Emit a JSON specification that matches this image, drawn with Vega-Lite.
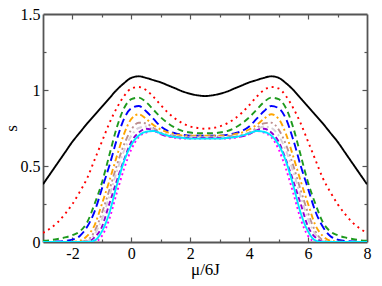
{
  "$schema": "https://vega.github.io/schema/vega-lite/v6.json",
  "width": 324,
  "height": 228,
  "autosize": {"type": "none"},
  "padding": {"left": 43, "top": 14, "right": 15, "bottom": 44},
  "config": {
    "font": "Liberation Serif",
    "view": {"stroke": null},
    "style": {"guide-label": {"font": "Liberation Serif"}, "guide-title": {"font": "Liberation Serif"}},
    "axis": {
      "grid": false,
      "labelFont": "Liberation Serif",
      "titleFont": "Liberation Serif",
      "labelFontSize": 16,
      "titleFontSize": 17,
      "titleFontWeight": "normal",
      "labelColor": "black",
      "titleColor": "black",
      "domainColor": "#555555",
      "domainWidth": 1.8,
      "tickColor": "#555555",
      "tickWidth": 1.2
    }
  },
  "data": {
    "values": [
      {"x": -3, "a": 0.38, "b": 0.06, "c": 0.008, "d": 0, "e": 0, "f": 0, "g": 0, "h": 0, "i": 0, "j": 0},
      {"x": -2.75, "a": 0.45, "b": 0.09, "c": 0.012, "d": 0.001, "e": 0, "f": 0, "g": 0, "h": 0, "i": 0, "j": 0},
      {"x": -2.5, "a": 0.52, "b": 0.13, "c": 0.02, "d": 0.003, "e": 0, "f": 0, "g": 0, "h": 0, "i": 0, "j": 0},
      {"x": -2.25, "a": 0.59, "b": 0.185, "c": 0.03, "d": 0.007, "e": 0.001, "f": 0, "g": 0, "h": 0, "i": 0, "j": 0},
      {"x": -2, "a": 0.66, "b": 0.25, "c": 0.045, "d": 0.015, "e": 0.002, "f": 0, "g": 0, "h": 0, "i": 0, "j": 0},
      {"x": -1.75, "a": 0.72, "b": 0.33, "c": 0.07, "d": 0.04, "e": 0.008, "f": 0.002, "g": 0, "h": 0, "i": 0, "j": 0},
      {"x": -1.5, "a": 0.78, "b": 0.42, "c": 0.13, "d": 0.1, "e": 0.04, "f": 0.012, "g": 0.006, "h": 0.002, "i": 0, "j": 0},
      {"x": -1.25, "a": 0.835, "b": 0.54, "c": 0.25, "d": 0.2, "e": 0.11, "f": 0.07, "g": 0.05, "h": 0.03, "i": 0.003, "j": 0.01},
      {"x": -1, "a": 0.89, "b": 0.66, "c": 0.39, "d": 0.35, "e": 0.25, "f": 0.19, "g": 0.15, "h": 0.1, "i": 0.04, "j": 0.07},
      {"x": -0.75, "a": 0.945, "b": 0.78, "c": 0.57, "d": 0.5, "e": 0.4, "f": 0.34, "g": 0.3, "h": 0.25, "i": 0.15, "j": 0.19},
      {"x": -0.5, "a": 1.0, "b": 0.88, "c": 0.75, "d": 0.67, "e": 0.56, "f": 0.5, "g": 0.46, "h": 0.4, "i": 0.32, "j": 0.37},
      {"x": -0.25, "a": 1.045, "b": 0.96, "c": 0.88, "d": 0.81, "e": 0.71, "f": 0.64, "g": 0.6, "h": 0.54, "i": 0.48, "j": 0.53},
      {"x": 0, "a": 1.08, "b": 1.01, "c": 0.94, "d": 0.88, "e": 0.81, "f": 0.74, "g": 0.7, "h": 0.66, "i": 0.61, "j": 0.64},
      {"x": 0.25, "a": 1.09, "b": 1.02, "c": 0.95, "d": 0.895, "e": 0.84, "f": 0.785, "g": 0.75, "h": 0.72, "i": 0.69, "j": 0.7},
      {"x": 0.5, "a": 1.08, "b": 1.0, "c": 0.92, "d": 0.86, "e": 0.81, "f": 0.78, "g": 0.76, "h": 0.745, "i": 0.72, "j": 0.725},
      {"x": 0.75, "a": 1.065, "b": 0.955, "c": 0.87, "d": 0.81, "e": 0.77, "f": 0.75, "g": 0.74, "h": 0.735, "i": 0.73, "j": 0.73},
      {"x": 1, "a": 1.05, "b": 0.9, "c": 0.82, "d": 0.76, "e": 0.74, "f": 0.72, "g": 0.715, "h": 0.71, "i": 0.71, "j": 0.715},
      {"x": 1.25, "a": 1.03, "b": 0.85, "c": 0.78, "d": 0.73, "e": 0.72, "f": 0.705, "g": 0.7, "h": 0.695, "i": 0.695, "j": 0.7},
      {"x": 1.5, "a": 1.01, "b": 0.81, "c": 0.75, "d": 0.715, "e": 0.71, "f": 0.7, "g": 0.695, "h": 0.69, "i": 0.685, "j": 0.69},
      {"x": 1.75, "a": 0.99, "b": 0.78, "c": 0.73, "d": 0.705, "e": 0.7, "f": 0.695, "g": 0.69, "h": 0.685, "i": 0.68, "j": 0.685},
      {"x": 2, "a": 0.975, "b": 0.76, "c": 0.72, "d": 0.7, "e": 0.7, "f": 0.695, "g": 0.69, "h": 0.685, "i": 0.68, "j": 0.68},
      {"x": 2.25, "a": 0.965, "b": 0.75, "c": 0.715, "d": 0.7, "e": 0.7, "f": 0.695, "g": 0.69, "h": 0.685, "i": 0.68, "j": 0.68},
      {"x": 2.5, "a": 0.96, "b": 0.745, "c": 0.715, "d": 0.7, "e": 0.7, "f": 0.695, "g": 0.69, "h": 0.685, "i": 0.68, "j": 0.68},
      {"x": 2.75, "a": 0.965, "b": 0.75, "c": 0.715, "d": 0.7, "e": 0.7, "f": 0.695, "g": 0.69, "h": 0.685, "i": 0.68, "j": 0.68},
      {"x": 3, "a": 0.975, "b": 0.76, "c": 0.72, "d": 0.7, "e": 0.7, "f": 0.695, "g": 0.69, "h": 0.685, "i": 0.68, "j": 0.68},
      {"x": 3.25, "a": 0.99, "b": 0.78, "c": 0.73, "d": 0.705, "e": 0.7, "f": 0.695, "g": 0.69, "h": 0.685, "i": 0.68, "j": 0.685},
      {"x": 3.5, "a": 1.01, "b": 0.81, "c": 0.75, "d": 0.715, "e": 0.71, "f": 0.7, "g": 0.695, "h": 0.69, "i": 0.685, "j": 0.69},
      {"x": 3.75, "a": 1.03, "b": 0.85, "c": 0.78, "d": 0.73, "e": 0.72, "f": 0.705, "g": 0.7, "h": 0.695, "i": 0.695, "j": 0.7},
      {"x": 4, "a": 1.05, "b": 0.9, "c": 0.82, "d": 0.76, "e": 0.74, "f": 0.72, "g": 0.715, "h": 0.71, "i": 0.71, "j": 0.715},
      {"x": 4.25, "a": 1.065, "b": 0.955, "c": 0.87, "d": 0.81, "e": 0.77, "f": 0.75, "g": 0.74, "h": 0.735, "i": 0.73, "j": 0.73},
      {"x": 4.5, "a": 1.08, "b": 1.0, "c": 0.92, "d": 0.86, "e": 0.81, "f": 0.78, "g": 0.76, "h": 0.745, "i": 0.72, "j": 0.725},
      {"x": 4.75, "a": 1.09, "b": 1.02, "c": 0.95, "d": 0.895, "e": 0.84, "f": 0.785, "g": 0.75, "h": 0.72, "i": 0.69, "j": 0.7},
      {"x": 5, "a": 1.08, "b": 1.01, "c": 0.94, "d": 0.88, "e": 0.81, "f": 0.74, "g": 0.7, "h": 0.66, "i": 0.61, "j": 0.64},
      {"x": 5.25, "a": 1.045, "b": 0.96, "c": 0.88, "d": 0.81, "e": 0.71, "f": 0.64, "g": 0.6, "h": 0.54, "i": 0.48, "j": 0.53},
      {"x": 5.5, "a": 1.0, "b": 0.88, "c": 0.75, "d": 0.67, "e": 0.56, "f": 0.5, "g": 0.46, "h": 0.4, "i": 0.32, "j": 0.37},
      {"x": 5.75, "a": 0.945, "b": 0.78, "c": 0.57, "d": 0.5, "e": 0.4, "f": 0.34, "g": 0.3, "h": 0.25, "i": 0.15, "j": 0.19},
      {"x": 6, "a": 0.89, "b": 0.66, "c": 0.39, "d": 0.35, "e": 0.25, "f": 0.19, "g": 0.15, "h": 0.1, "i": 0.04, "j": 0.07},
      {"x": 6.25, "a": 0.835, "b": 0.54, "c": 0.25, "d": 0.2, "e": 0.11, "f": 0.07, "g": 0.05, "h": 0.03, "i": 0.003, "j": 0.01},
      {"x": 6.5, "a": 0.78, "b": 0.42, "c": 0.13, "d": 0.1, "e": 0.04, "f": 0.012, "g": 0.006, "h": 0.002, "i": 0, "j": 0},
      {"x": 6.75, "a": 0.72, "b": 0.33, "c": 0.07, "d": 0.04, "e": 0.008, "f": 0.002, "g": 0, "h": 0, "i": 0, "j": 0},
      {"x": 7, "a": 0.66, "b": 0.25, "c": 0.045, "d": 0.015, "e": 0.002, "f": 0, "g": 0, "h": 0, "i": 0, "j": 0},
      {"x": 7.25, "a": 0.59, "b": 0.185, "c": 0.03, "d": 0.007, "e": 0.001, "f": 0, "g": 0, "h": 0, "i": 0, "j": 0},
      {"x": 7.5, "a": 0.52, "b": 0.13, "c": 0.02, "d": 0.003, "e": 0, "f": 0, "g": 0, "h": 0, "i": 0, "j": 0},
      {"x": 7.75, "a": 0.45, "b": 0.09, "c": 0.012, "d": 0.001, "e": 0, "f": 0, "g": 0, "h": 0, "i": 0, "j": 0},
      {"x": 8, "a": 0.38, "b": 0.06, "c": 0.008, "d": 0, "e": 0, "f": 0, "g": 0, "h": 0, "i": 0, "j": 0}
    ]
  },
  "transform": [
    {"fold": ["a", "b", "c", "d", "e", "f", "g", "h", "i", "j"], "as": ["series", "s"]}
  ],
  "layer": [
    {
      "mark": {"type": "line", "interpolate": "monotone", "strokeWidth": 1.9, "clip": true},
      "encoding": {
        "x": {
          "field": "x", "type": "quantitative",
          "scale": {"domain": [-3, 8], "nice": false, "zero": false},
          "axis": {"orient": "bottom", "values": [-2, 0, 2, 4, 6, 8], "ticks": false, "labelPadding": 3, "labelExpr": "'' + datum.value", "title": "μ/6J", "titlePadding": 0, "labelFlush": false, "labelFont": "Liberation Serif", "titleFont": "Liberation Serif"}
        },
        "y": {
          "field": "s", "type": "quantitative",
          "scale": {"domain": [0, 1.5], "nice": false},
          "axis": {"orient": "left", "values": [0, 0.5, 1, 1.5], "ticks": false, "labelPadding": 3, "labelExpr": "'' + datum.value", "title": "s", "titlePadding": 0, "labelFlush": false, "labelFont": "Liberation Serif", "titleFont": "Liberation Serif"}
        },
        "color": {
          "field": "series", "type": "nominal", "legend": null,
          "scale": {
            "domain": ["a", "b", "c", "d", "e", "f", "g", "h", "i", "j"],
            "range": ["#000000", "#ff0000", "#1e9a1e", "#0000ff", "#ffa500", "#bc8f8f", "#d8d0d8", "#9400d3", "#ff00ff", "#00e8ff"]
          }
        },
        "strokeDash": {
          "field": "series", "type": "nominal", "legend": null,
          "scale": {
            "domain": ["a", "b", "c", "d", "e", "f", "g", "h", "i", "j"],
            "range": [[1, 0], [2, 4], [6, 4], [8, 4], [6, 3, 2, 3], [6, 3, 2, 3, 2, 3], [6, 3, 2, 3], [5, 3], [2, 3], [1, 0]]
          }
        },
        "order": {"field": "x", "type": "quantitative"}
      }
    },
    {
      "mark": {"type": "point", "opacity": 0},
      "encoding": {
        "x": {"field": "x", "type": "quantitative", "axis": {"orient": "bottom", "values": [-2, 0, 2, 4, 6], "labels": false, "domain": false, "tickSize": -5, "title": null}},
        "y": {"field": "s", "type": "quantitative", "axis": {"orient": "left", "values": [0.5, 1], "labels": false, "domain": false, "tickSize": -5, "title": null}}
      }
    },
    {
      "mark": {"type": "point", "opacity": 0},
      "encoding": {
        "x": {"field": "x", "type": "quantitative", "axis": {"orient": "bottom", "values": [-1, 1, 3, 5, 7], "labels": false, "domain": false, "tickSize": -3, "title": null}},
        "y": {"field": "s", "type": "quantitative", "axis": {"orient": "left", "values": [0.25, 0.75, 1.25], "labels": false, "domain": false, "tickSize": -3, "title": null}}
      }
    },
    {
      "mark": {"type": "point", "opacity": 0},
      "encoding": {
        "x": {"field": "x", "type": "quantitative", "axis": {"orient": "top", "values": [-2, 0, 2, 4, 6], "labels": false, "domain": true, "tickSize": -5, "title": null}},
        "y": {"field": "s", "type": "quantitative", "axis": {"orient": "right", "values": [0.5, 1], "labels": false, "domain": true, "tickSize": -5, "title": null}}
      }
    },
    {
      "mark": {"type": "point", "opacity": 0},
      "encoding": {
        "x": {"field": "x", "type": "quantitative", "axis": {"orient": "top", "values": [-1, 1, 3, 5, 7], "labels": false, "domain": false, "tickSize": -3, "title": null}},
        "y": {"field": "s", "type": "quantitative", "axis": {"orient": "right", "values": [0.25, 0.75, 1.25], "labels": false, "domain": false, "tickSize": -3, "title": null}}
      }
    }
  ],
  "resolve": {"axis": {"x": "independent", "y": "independent"}}
}
